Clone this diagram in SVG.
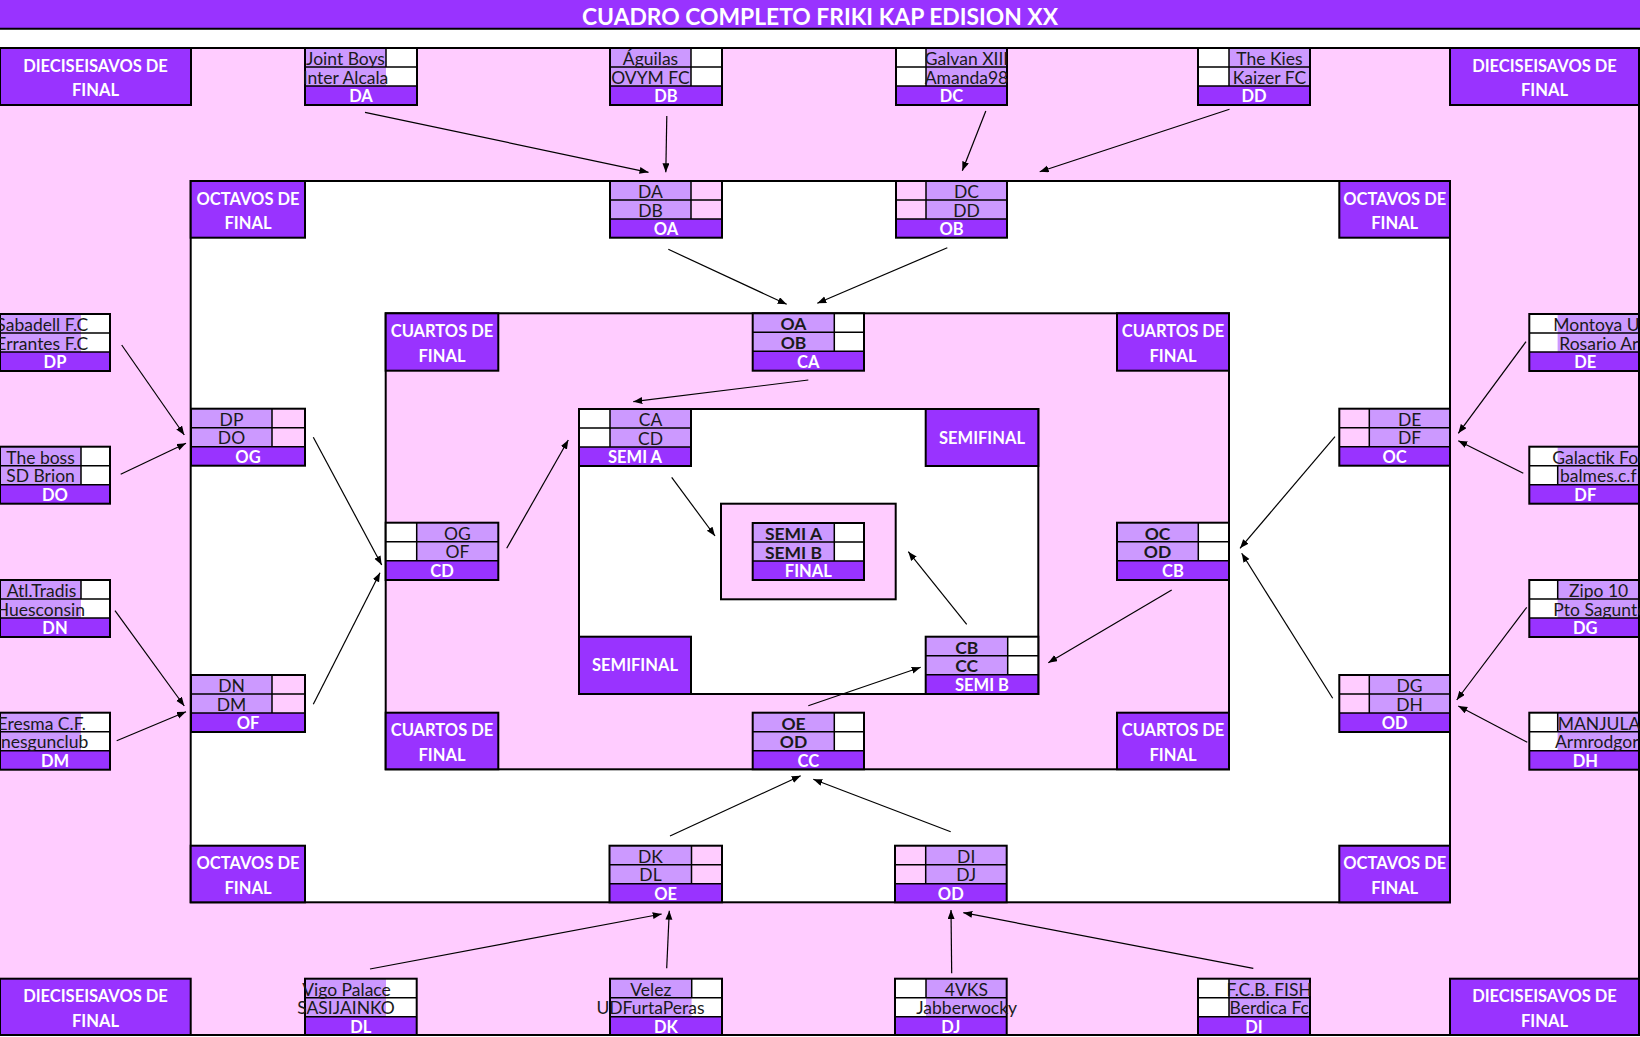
<svg xmlns="http://www.w3.org/2000/svg" width="1640" height="1037" viewBox="0 0 1640 1037">
<defs>
<style>
text{font-family:Lato,"Liberation Sans",sans-serif}
.title{font-size:22px;font-weight:bold;fill:#fff;text-anchor:middle}
.hd{font-size:16.5px;font-weight:bold;fill:#fff;text-anchor:middle}
.hbox{fill:#9933ff;stroke:#000;stroke-width:2}
.nm{fill:#cc99ff}
.sw{fill:#fff}
.sp{fill:#ffccff}
.lb{fill:#9933ff}
.in{fill:none;stroke:#000;stroke-width:1.5}
.fr{fill:none;stroke:#000;stroke-width:2}
.tm{font-size:17.5px;fill:#1a1a1a;text-anchor:middle}
.tb{font-size:17.5px;font-weight:bold;fill:#1a1a1a;text-anchor:middle}
.ts{text-anchor:start}
.te{text-anchor:end}
.lt{font-size:16.5px;font-weight:bold;fill:#fff;text-anchor:middle}
.ar{stroke:#000;stroke-width:1.2;fill:none;marker-end:url(#ah)}
</style>
<marker id="ah" markerUnits="userSpaceOnUse" markerWidth="10" markerHeight="8" refX="9" refY="3.5" orient="auto">
<path d="M0,0L9,3.5L0,7z" fill="#000"/>
</marker>
</defs>

<!-- background -->
<rect x="0" y="0" width="1640" height="1037" fill="#fff"/>
<g id="title">
<rect x="0" y="0" width="1640" height="28.5" fill="#9933ff"/>
<line x1="0" y1="28.8" x2="1640" y2="28.8" stroke="#000" stroke-width="2"/>
<text class="title" x="820" y="25" textLength="476" lengthAdjust="spacingAndGlyphs">CUADRO COMPLETO FRIKI KAP EDISION XX</text>
</g>

<g id="areas">
<rect x="0" y="48" width="1639" height="987" fill="#ffccff"/>
<path d="M0,48H1639V1035H0" fill="none" stroke="#000" stroke-width="2"/>
<rect x="190.7" y="181" width="1259.3" height="721.3" fill="#fff" stroke="#000" stroke-width="2"/>
<rect x="385.7" y="313.3" width="843.3" height="456" fill="#ffccff" stroke="#000" stroke-width="2"/>
<rect x="579" y="409" width="459.3" height="285" fill="#fff" stroke="#000" stroke-width="2"/>
<rect x="721" y="503.7" width="174.7" height="95.6" fill="#ffccff" stroke="#000" stroke-width="2"/>
</g>

<!-- round headers -->
<g id="h-d-tl"><rect class="hbox" x="0" y="48" width="191" height="57"/><text class="hd" x="95.5" y="71.5">DIECISEISAVOS DE</text><text class="hd" x="95.5" y="96">FINAL</text></g>
<g id="h-d-tr"><rect class="hbox" x="1450" y="48" width="189" height="57"/><text class="hd" x="1544.5" y="71.5">DIECISEISAVOS DE</text><text class="hd" x="1544.5" y="96">FINAL</text></g>
<g id="h-d-bl"><rect class="hbox" x="0" y="978.7" width="190.7" height="56.3"/><text class="hd" x="95.5" y="1002">DIECISEISAVOS DE</text><text class="hd" x="95.5" y="1026.5">FINAL</text></g>
<g id="h-d-br"><rect class="hbox" x="1450" y="978.7" width="189" height="56.3"/><text class="hd" x="1544.5" y="1002">DIECISEISAVOS DE</text><text class="hd" x="1544.5" y="1026.5">FINAL</text></g>

<g id="h-o-tl"><rect class="hbox" x="190.7" y="181" width="114.3" height="56.7"/><text class="hd" x="248" y="204.5">OCTAVOS DE</text><text class="hd" x="248" y="229">FINAL</text></g>
<g id="h-o-tr"><rect class="hbox" x="1339.3" y="181" width="110.7" height="56.7"/><text class="hd" x="1394.7" y="204.5">OCTAVOS DE</text><text class="hd" x="1394.7" y="229">FINAL</text></g>
<g id="h-o-bl"><rect class="hbox" x="190.7" y="845.7" width="114.3" height="56.6"/><text class="hd" x="248" y="869">OCTAVOS DE</text><text class="hd" x="248" y="893.5">FINAL</text></g>
<g id="h-o-br"><rect class="hbox" x="1339.3" y="845.7" width="110.7" height="56.6"/><text class="hd" x="1394.7" y="869">OCTAVOS DE</text><text class="hd" x="1394.7" y="893.5">FINAL</text></g>

<g id="h-c-tl"><rect class="hbox" x="385.7" y="313.3" width="112.6" height="57.4"/><text class="hd" x="442" y="337">CUARTOS DE</text><text class="hd" x="442" y="361.5">FINAL</text></g>
<g id="h-c-tr"><rect class="hbox" x="1117" y="313.3" width="112" height="57.4"/><text class="hd" x="1173" y="337">CUARTOS DE</text><text class="hd" x="1173" y="361.5">FINAL</text></g>
<g id="h-c-bl"><rect class="hbox" x="385.7" y="712.7" width="112.6" height="56.6"/><text class="hd" x="442" y="736">CUARTOS DE</text><text class="hd" x="442" y="760.5">FINAL</text></g>
<g id="h-c-br"><rect class="hbox" x="1117" y="712.7" width="112" height="56.6"/><text class="hd" x="1173" y="736">CUARTOS DE</text><text class="hd" x="1173" y="760.5">FINAL</text></g>

<g id="h-s-tr"><rect class="hbox" x="925.7" y="409" width="112.6" height="57"/><text class="hd" x="982" y="443.5">SEMIFINAL</text></g>
<g id="h-s-bl"><rect class="hbox" x="579" y="636.7" width="112" height="57.3"/><text class="hd" x="635" y="671">SEMIFINAL</text></g>

<!-- connectors -->
<g id="connectors">
<line class="ar" x1="365" y1="112.3" x2="648.5" y2="172.3"/>
<line class="ar" x1="666.8" y1="116" x2="665.8" y2="172.3"/>
<line class="ar" x1="985.8" y1="111" x2="962.3" y2="170.7"/>
<line class="ar" x1="1229.5" y1="109.3" x2="1039.7" y2="171.7"/>
<line class="ar" x1="668.3" y1="249.3" x2="786.7" y2="304.3"/>
<line class="ar" x1="947.3" y1="247.7" x2="817.3" y2="303.3"/>
<line class="ar" x1="808.3" y1="380" x2="633.3" y2="401.7"/>
<line class="ar" x1="121.7" y1="345" x2="184.3" y2="435"/>
<line class="ar" x1="120.7" y1="474.3" x2="186" y2="443.3"/>
<line class="ar" x1="115" y1="610.7" x2="184.3" y2="706"/>
<line class="ar" x1="116.7" y1="740.7" x2="186" y2="711.7"/>
<line class="ar" x1="313.3" y1="437.3" x2="381.7" y2="565"/>
<line class="ar" x1="313.3" y1="704.3" x2="380" y2="572.7"/>
<line class="ar" x1="506.7" y1="548.3" x2="568.3" y2="440"/>
<line class="ar" x1="671.7" y1="477.3" x2="715" y2="536"/>
<line class="ar" x1="966.7" y1="624.3" x2="908.3" y2="551.7"/>
<line class="ar" x1="1171.7" y1="590" x2="1048.3" y2="662.7"/>
<line class="ar" x1="808.3" y1="705.7" x2="920.7" y2="667.3"/>
<line class="ar" x1="1526" y1="341.7" x2="1458.3" y2="433.3"/>
<line class="ar" x1="1523.3" y1="473.3" x2="1458.3" y2="440.7"/>
<line class="ar" x1="1526.7" y1="607.3" x2="1456.7" y2="700"/>
<line class="ar" x1="1527.3" y1="742.3" x2="1458.3" y2="706"/>
<line class="ar" x1="1335" y1="436.7" x2="1240" y2="548.3"/>
<line class="ar" x1="1332.7" y1="698.3" x2="1241.7" y2="553.3"/>
<line class="ar" x1="670" y1="836" x2="800.7" y2="775.7"/>
<line class="ar" x1="950.7" y1="831.7" x2="813.3" y2="779.3"/>
<line class="ar" x1="666.7" y1="968.3" x2="669.3" y2="910.7"/>
<line class="ar" x1="370" y1="969" x2="661.7" y2="914"/>
<line class="ar" x1="951.7" y1="973.3" x2="951" y2="910"/>
<line class="ar" x1="1253.3" y1="968.3" x2="963.3" y2="912.7"/>
</g>

<!-- Dieciseisavos: top -->
<g id="DA" transform="translate(305,48)">
<rect class="nm" width="81" height="38"/><rect class="sw" x="81" width="31" height="38"/><rect class="lb" y="38" width="112" height="19"/>
<path class="in" d="M0,19H112M0,38H112M81,0V19"/><rect class="fr" width="112" height="57"/>
<text class="tm" x="40.5" y="16.8">Joint Boys</text><text class="tm" x="40.5" y="35.8">Inter Alcala</text><text class="lt" x="56" y="54.3">DA</text>
</g>
<g id="DB" transform="translate(610,48)">
<rect class="nm" width="81" height="38"/><rect class="sw" x="81" width="31" height="38"/><rect class="lb" y="38" width="112" height="19"/>
<path class="in" d="M0,19H112M0,38H112M81,0V38"/><rect class="fr" width="112" height="57"/>
<text class="tm" x="40.5" y="16.8">Águilas</text><text class="tm" x="40.5" y="35.8">OVYM FC</text><text class="lt" x="56" y="54.3">DB</text>
</g>
<g id="DC" transform="translate(896,48)">
<rect class="sw" width="30" height="38"/><rect class="nm" x="30" width="81" height="38"/><rect class="lb" y="38" width="111" height="19"/>
<path class="in" d="M0,19H111M0,38H111M30,0V38"/><rect class="fr" width="111" height="57"/>
<text class="tm" x="70.5" y="16.8">Galvan XIII</text><text class="tm" x="70.5" y="35.8">Amanda98</text><text class="lt" x="55.5" y="54.3">DC</text>
</g>
<g id="DD" transform="translate(1198,48)">
<rect class="sw" width="31" height="38"/><rect class="nm" x="31" width="81" height="38"/><rect class="lb" y="38" width="112" height="19"/>
<path class="in" d="M0,19H112M0,38H112M31,0V38"/><rect class="fr" width="112" height="57"/>
<text class="tm" x="71.5" y="16.8">The Kies</text><text class="tm" x="71.5" y="35.8">Kaizer FC</text><text class="lt" x="56" y="54.3">DD</text>
</g>

<!-- Dieciseisavos: left -->
<g id="DP" transform="translate(0,314)">
<rect class="nm" width="81" height="38"/><rect class="sw" x="81" width="29" height="38"/><rect class="lb" y="38" width="110" height="19"/>
<path class="in" d="M0,19H110M0,38H110"/><rect class="fr" width="110" height="57"/>
<text class="tm te" x="88.3" y="16.8">Sabadell F.C</text><text class="tm te" x="88.3" y="35.8">Errantes F.C</text><text class="lt" x="55" y="54.3">DP</text>
</g>
<g id="DO" transform="translate(0,446.7)">
<rect class="nm" width="81" height="38"/><rect class="sw" x="81" width="29" height="38"/><rect class="lb" y="38" width="110" height="19"/>
<path class="in" d="M0,19H110M0,38H110M81,0V38"/><rect class="fr" width="110" height="57"/>
<text class="tm" x="40.5" y="16.8">The boss</text><text class="tm" x="40.5" y="35.8">SD Brion</text><text class="lt" x="55" y="54.3">DO</text>
</g>
<g id="DN" transform="translate(0,580)">
<rect class="nm" width="81" height="38"/><rect class="sw" x="81" width="29" height="38"/><rect class="lb" y="38" width="110" height="19"/>
<path class="in" d="M0,19H110M0,38H110M81,0V19"/><rect class="fr" width="110" height="57"/>
<text class="tm" x="41.5" y="16.8">Atl.Tradis</text><text class="tm te" x="85" y="35.8">Huesconsin</text><text class="lt" x="55" y="54.3">DN</text>
</g>
<g id="DM" transform="translate(0,712.7)">
<rect class="nm" width="81" height="38"/><rect class="sw" x="81" width="29" height="38"/><rect class="lb" y="38" width="110" height="19"/>
<path class="in" d="M0,19H110M0,38H110"/><rect class="fr" width="110" height="57"/>
<text class="tm te" x="86" y="16.8">Eresma C.F.</text><text class="tm te" x="88.3" y="35.8">nesgunclub</text><text class="lt" x="55" y="54.3">DM</text>
</g>

<!-- Dieciseisavos: right -->
<g id="DE" transform="translate(1529.3,314)">
<rect class="sw" width="28.4" height="38"/><rect class="nm" x="28.4" width="81.3" height="38"/><rect class="lb" y="38" width="109.7" height="19"/>
<path class="in" d="M0,19H109.7M0,38H109.7"/><rect class="fr" width="109.7" height="57"/>
<text class="tm ts" x="24" y="16.8">Montoya U</text><text class="tm ts" x="30" y="35.8">Rosario Ar</text><text class="lt" x="56" y="54.3">DE</text>
</g>
<g id="DF" transform="translate(1529.3,446.7)">
<rect class="sw" width="28.4" height="38"/><rect class="nm" x="28.4" width="81.3" height="38"/><rect class="lb" y="38" width="109.7" height="19"/>
<path class="in" d="M0,19H109.7M0,38H109.7M28.4,19V38"/><rect class="fr" width="109.7" height="57"/>
<text class="tm ts" x="23" y="16.8">Galactik Foo</text><text class="tm ts" x="30.7" y="35.8">balmes.c.f</text><text class="lt" x="56" y="54.3">DF</text>
</g>
<g id="DG" transform="translate(1529.3,580)">
<rect class="sw" width="28.4" height="38"/><rect class="nm" x="28.4" width="81.3" height="38"/><rect class="lb" y="38" width="109.7" height="19"/>
<path class="in" d="M0,19H109.7M0,38H109.7M28.4,0V19"/><rect class="fr" width="109.7" height="57"/>
<text class="tm" x="69.3" y="16.8">Zipo 10</text><text class="tm ts" x="24" y="35.8">Pto Sagunto</text><text class="lt" x="56" y="54.3">DG</text>
</g>
<g id="DH" transform="translate(1529.3,712.7)">
<rect class="sw" width="28.4" height="38"/><rect class="nm" x="28.4" width="81.3" height="38"/><rect class="lb" y="38" width="109.7" height="19"/>
<path class="in" d="M0,19H109.7M0,38H109.7M28.4,0V19"/><rect class="fr" width="109.7" height="57"/>
<text class="tm" x="69.7" y="16.8">MANJULA</text><text class="tm ts" x="25.7" y="35.8">Armrodgor</text><text class="lt" x="56" y="54.3">DH</text>
</g>

<!-- Dieciseisavos: bottom -->
<g id="DL" transform="translate(305,978.7)">
<rect class="nm" width="81" height="38"/><rect class="sw" x="81" width="30.7" height="38"/><rect class="lb" y="38" width="111.7" height="18.3"/>
<path class="in" d="M0,19H111.7M0,38H111.7"/><rect class="fr" width="111.7" height="56.3"/>
<text class="tm" x="41.5" y="16.8">Vigo Palace</text><text class="tm" x="41" y="35.8">SASIJAINKO</text><text class="lt" x="55.8" y="54">DL</text>
</g>
<g id="DK" transform="translate(610,978.7)">
<rect class="nm" width="81.7" height="38"/><rect class="sw" x="81.7" width="30.3" height="38"/><rect class="lb" y="38" width="112" height="18.3"/>
<path class="in" d="M0,19H112M0,38H112M81.7,0V19"/><rect class="fr" width="112" height="56.3"/>
<text class="tm" x="40.8" y="16.8">Velez</text><text class="tm" x="40.5" y="35.8">UDFurtaPeras</text><text class="lt" x="56" y="54">DK</text>
</g>
<g id="DJ" transform="translate(895,978.7)">
<rect class="sw" width="31" height="38"/><rect class="nm" x="31" width="80.7" height="38"/><rect class="lb" y="38" width="111.7" height="18.3"/>
<path class="in" d="M0,19H111.7M0,38H111.7M31,0V19"/><rect class="fr" width="111.7" height="56.3"/>
<text class="tm" x="71.4" y="16.8">4VKS</text><text class="tm" x="71.7" y="35.8">Jabberwocky</text><text class="lt" x="55.8" y="54">DJ</text>
</g>
<g id="DI" transform="translate(1198,978.7)">
<rect class="sw" width="31" height="38"/><rect class="nm" x="31" width="81" height="38"/><rect class="lb" y="38" width="112" height="18.3"/>
<path class="in" d="M0,19H112M0,38H112M31,0V38"/><rect class="fr" width="112" height="56.3"/>
<text class="tm" x="71.2" y="16.8">F.C.B. FISH</text><text class="tm" x="71.2" y="35.8">Berdica Fc</text><text class="lt" x="56" y="54">DI</text>
</g>

<!-- Octavos -->
<g id="OA" transform="translate(610,181)">
<rect class="nm" width="81" height="38"/><rect class="sp" x="81" width="31" height="38"/><rect class="lb" y="38" width="112" height="18.7"/>
<path class="in" d="M0,19H112M0,38H112M81,0V38"/><rect class="fr" width="112" height="56.7"/>
<text class="tm" x="40.5" y="16.8">DA</text><text class="tm" x="40.5" y="35.8">DB</text><text class="lt" x="56" y="54.3">OA</text>
</g>
<g id="OB" transform="translate(896,181)">
<rect class="sp" width="30" height="38"/><rect class="nm" x="30" width="81" height="38"/><rect class="lb" y="38" width="111" height="18.7"/>
<path class="in" d="M0,19H111M0,38H111M30,0V38"/><rect class="fr" width="111" height="56.7"/>
<text class="tm" x="70.5" y="16.8">DC</text><text class="tm" x="70.5" y="35.8">DD</text><text class="lt" x="55.5" y="54.3">OB</text>
</g>
<g id="OG" transform="translate(191,408.7)">
<rect class="nm" width="81" height="38"/><rect class="sp" x="81" width="33" height="38"/><rect class="lb" y="38" width="114" height="19"/>
<path class="in" d="M0,19H114M0,38H114M81,0V38"/><rect class="fr" width="114" height="57"/>
<text class="tm" x="40.5" y="16.8">DP</text><text class="tm" x="40.5" y="35.8">DO</text><text class="lt" x="57" y="54.3">OG</text>
</g>
<g id="OF" transform="translate(191,675)">
<rect class="nm" width="81" height="38"/><rect class="sp" x="81" width="33" height="38"/><rect class="lb" y="38" width="114" height="19"/>
<path class="in" d="M0,19H114M0,38H114M81,0V38"/><rect class="fr" width="114" height="57"/>
<text class="tm" x="40.5" y="16.8">DN</text><text class="tm" x="40.5" y="35.8">DM</text><text class="lt" x="57" y="54.3">OF</text>
</g>
<g id="OC" transform="translate(1339.3,408.7)">
<rect class="sp" width="30" height="38"/><rect class="nm" x="30" width="80.7" height="38"/><rect class="lb" y="38" width="110.7" height="19"/>
<path class="in" d="M0,19H110.7M0,38H110.7M30,0V38"/><rect class="fr" width="110.7" height="57"/>
<text class="tm" x="70.3" y="16.8">DE</text><text class="tm" x="70.3" y="35.8">DF</text><text class="lt" x="55.3" y="54.3">OC</text>
</g>
<g id="OD" transform="translate(1339.3,675)">
<rect class="sp" width="30" height="38"/><rect class="nm" x="30" width="80.7" height="38"/><rect class="lb" y="38" width="110.7" height="19"/>
<path class="in" d="M0,19H110.7M0,38H110.7M30,0V38"/><rect class="fr" width="110.7" height="57"/>
<text class="tm" x="70.3" y="16.8">DG</text><text class="tm" x="70.3" y="35.8">DH</text><text class="lt" x="55.3" y="54.3">OD</text>
</g>
<g id="OE" transform="translate(609.5,845.7)">
<rect class="nm" width="82" height="38"/><rect class="sp" x="82" width="30.5" height="38"/><rect class="lb" y="38" width="112.5" height="18.6"/>
<path class="in" d="M0,19H112.5M0,38H112.5M82,0V38"/><rect class="fr" width="112.5" height="56.6"/>
<text class="tm" x="41" y="16.8">DK</text><text class="tm" x="41" y="35.8">DL</text><text class="lt" x="56.2" y="54.3">OE</text>
</g>
<g id="OD-b" transform="translate(895,845.7)">
<rect class="sp" width="30.7" height="38"/><rect class="nm" x="30.7" width="81" height="38"/><rect class="lb" y="38" width="111.7" height="18.6"/>
<path class="in" d="M0,19H111.7M0,38H111.7M30.7,0V38"/><rect class="fr" width="111.7" height="56.6"/>
<text class="tm" x="71.2" y="16.8">DI</text><text class="tm" x="71.2" y="35.8">DJ</text><text class="lt" x="55.8" y="54.3">OD</text>
</g>

<!-- Cuartos -->
<g id="CA" transform="translate(752.7,313.3)">
<rect class="nm" width="81.6" height="38"/><rect class="sw" x="81.6" width="29.7" height="38"/><rect class="lb" y="38" width="111.3" height="19.4"/>
<path class="in" d="M0,19H111.3M0,38H111.3M81.6,0V38"/><rect class="fr" width="111.3" height="57.4"/>
<text class="tb" x="40.8" y="16.8">OA</text><text class="tb" x="40.8" y="35.8">OB</text><text class="lt" x="55.6" y="54.5">CA</text>
</g>
<g id="CD" transform="translate(385.7,522.7)">
<rect class="sw" width="31" height="38"/><rect class="nm" x="31" width="81.6" height="38"/><rect class="lb" y="38" width="112.6" height="19.3"/>
<path class="in" d="M0,19H112.6M0,38H112.6M31,0V38"/><rect class="fr" width="112.6" height="57.3"/>
<text class="tm" x="71.8" y="16.8">OG</text><text class="tm" x="71.8" y="35.8">OF</text><text class="lt" x="56.3" y="54.5">CD</text>
</g>
<g id="CB" transform="translate(1117,522.7)">
<rect class="nm" width="81.3" height="38"/><rect class="sw" x="81.3" width="30.7" height="38"/><rect class="lb" y="38" width="112" height="19.3"/>
<path class="in" d="M0,19H112M0,38H112M81.3,0V38"/><rect class="fr" width="112" height="57.3"/>
<text class="tb" x="40.6" y="16.8">OC</text><text class="tb" x="40.6" y="35.8">OD</text><text class="lt" x="56" y="54.5">CB</text>
</g>
<g id="CC" transform="translate(752.7,712.7)">
<rect class="nm" width="81.6" height="38"/><rect class="sw" x="81.6" width="29.7" height="38"/><rect class="lb" y="38" width="111.3" height="18.6"/>
<path class="in" d="M0,19H111.3M0,38H111.3M81.6,0V38"/><rect class="fr" width="111.3" height="56.6"/>
<text class="tb" x="40.8" y="16.8">OE</text><text class="tb" x="40.8" y="35.8">OD</text><text class="lt" x="55.6" y="54.3">CC</text>
</g>

<!-- Semis and final -->
<g id="SEMI-A" transform="translate(579,409)">
<rect class="sw" width="31" height="38"/><rect class="nm" x="31" width="81" height="38"/><rect class="lb" y="38" width="112" height="19"/>
<path class="in" d="M0,19H112M0,38H112M31,0V38"/><rect class="fr" width="112" height="57"/>
<text class="tm" x="71.5" y="16.8">CA</text><text class="tm" x="71.5" y="35.8">CD</text><text class="lt" x="56" y="54.3">SEMI A</text>
</g>
<g id="SEMI-B" transform="translate(925.7,636.7)">
<rect class="nm" width="82" height="38"/><rect class="sw" x="82" width="30.6" height="38"/><rect class="lb" y="38" width="112.6" height="19.3"/>
<path class="in" d="M0,19H112.6M0,38H112.6M82,0V38"/><rect class="fr" width="112.6" height="57.3"/>
<text class="tb" x="41" y="16.8">CB</text><text class="tb" x="41" y="35.8">CC</text><text class="lt" x="56.3" y="54.5">SEMI B</text>
</g>
<g id="FINAL" transform="translate(752.7,523)">
<rect class="nm" width="81.6" height="38"/><rect class="sw" x="81.6" width="29.7" height="38"/><rect class="lb" y="38" width="111.3" height="19"/>
<path class="in" d="M0,19H111.3M0,38H111.3M81.6,0V38"/><rect class="fr" width="111.3" height="57"/>
<text class="tb" x="40.8" y="16.8">SEMI A</text><text class="tb" x="40.8" y="35.8">SEMI B</text><text class="lt" x="55.6" y="54.3">FINAL</text>
</g>
</svg>
